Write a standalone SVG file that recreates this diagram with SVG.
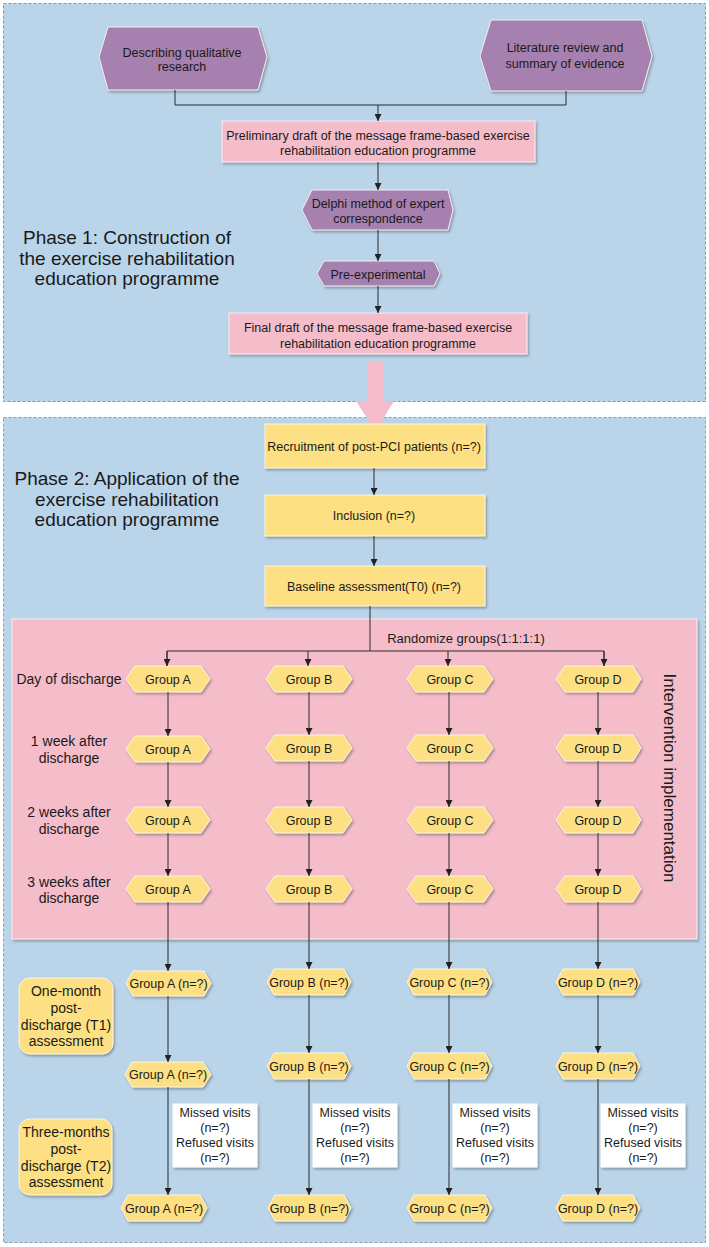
<svg xmlns="http://www.w3.org/2000/svg" width="709" height="1247" viewBox="0 0 709 1247">
<defs>
<filter id="sh" x="-10%" y="-10%" width="130%" height="140%">
<feDropShadow dx="1.5" dy="2" stdDeviation="0.8" flood-color="#555" flood-opacity="0.45"/>
</filter>
<marker id="ar" markerUnits="userSpaceOnUse" markerWidth="7" markerHeight="7" refX="7" refY="3.5" orient="auto">
<path d="M0,0 L7,3.5 L0,7 Z" fill="#222"/>
</marker>
</defs>
<style>
text{font-family:"Liberation Sans",Arial,sans-serif;fill:#1a1a1a;text-anchor:middle}
.s{font-size:12.5px}
.m{font-size:14px}
.l{font-size:19px}
.panel{fill:#bad4ea;stroke:#8e8bb8;stroke-width:1;stroke-dasharray:3,2}
.pur{fill:#a680ae;stroke:#f2eef5;stroke-width:1;filter:url(#sh)}
.pink{fill:#f5bdc9;stroke:#fbeef1;stroke-width:1;filter:url(#sh)}
.yel{fill:#fde083;stroke:#fff6d8;stroke-width:1;filter:url(#sh)}
.wht{fill:#ffffff;stroke:#ffffff;stroke-width:1;filter:url(#sh)}
.c{fill:none;stroke:#2a2a2a;stroke-width:1}
.ca{fill:none;stroke:#2a2a2a;stroke-width:1;marker-end:url(#ar)}
</style>

<g id="panel1">
<rect class="panel" x="3.5" y="3.5" width="702" height="398"/>
</g>
<g id="panel2">
<rect class="panel" x="3.5" y="417.5" width="702" height="825" style="stroke:#8a9bc2"/>
</g>

<g id="phase1-label">
<text class="l" x="127" y="244">Phase 1: Construction of</text>
<text class="l" x="127" y="264.5">the exercise rehabilitation</text>
<text class="l" x="127" y="285">education programme</text>
</g>
<g id="phase2-label">
<text class="l" x="127" y="485">Phase 2: Application of the</text>
<text class="l" x="127" y="505.5">exercise rehabilitation</text>
<text class="l" x="127" y="526">education programme</text>
</g>

<g id="n-qual">
<polygon class="pur" points="99,57 108,27 258,27 267,57 258,90 108,90"/>
<text class="s" x="182" y="56.5">Describing qualitative</text>
<text class="s" x="182" y="71">research</text>
</g>
<g id="n-lit">
<polygon class="pur" points="480,56 491,20 642,20 652,56 642,91 491,91"/>
<text class="s" x="565" y="51.5">Literature review and</text>
<text class="s" x="565" y="67.5">summary of evidence</text>
</g>
<g id="n-prelim">
<rect class="pink" x="222" y="121" width="313" height="41"/>
<text class="s" x="378" y="139.5">Preliminary draft of the message frame-based exercise</text>
<text class="s" x="378" y="155">rehabilitation education programme</text>
</g>
<g id="n-delphi">
<polygon class="pur" points="302,210 312,190 448,190 453,210 448,230 312,230"/>
<text class="s" x="378" y="207.5">Delphi method of expert</text>
<text class="s" x="378" y="222.5">correspondence</text>
</g>
<g id="n-pre">
<polygon class="pur" points="317,273.5 324,261 434,261 440,273.5 434,286 324,286"/>
<text class="s" x="378" y="278.5">Pre-experimental</text>
</g>
<g id="n-final">
<rect class="pink" x="229" y="313" width="298" height="41"/>
<text class="s" x="378" y="331.5">Final draft of the message frame-based exercise</text>
<text class="s" x="378" y="347.5">rehabilitation education programme</text>
</g>

<g id="big-arrow">
<polygon points="368,361 383,361 383,401 394,401 375.5,431 356,401 368,401" fill="#f4bccb"/>
</g>

<g id="n-recruit">
<rect class="yel" x="265" y="424" width="220" height="44"/>
<text class="s" x="374" y="451">Recruitment of post-PCI patients (n=?)</text>
</g>
<g id="n-incl">
<rect class="yel" x="265" y="495" width="220" height="41"/>
<text class="s" x="374" y="519.5">Inclusion (n=?)</text>
</g>
<g id="n-base">
<rect class="yel" x="265" y="566" width="220" height="40"/>
<text class="s" x="374" y="590.5">Baseline assessment(T0) (n=?)</text>
</g>

<g id="intervention-region">
<rect class="pink" x="12" y="619" width="685" height="320"/>
<text x="466" y="643" style="font-size:13px">Randomize groups(1:1:1:1)</text>
<text x="0" y="0" transform="translate(664,778) rotate(90)" style="font-size:17px">Intervention implementation</text>
</g>

<g id="row-labels">
<text class="m" x="69" y="684">Day of discharge</text>
<text class="m" x="69" y="746">1 week after</text>
<text class="m" x="69" y="763">discharge</text>
<text class="m" x="69" y="817">2 weeks after</text>
<text class="m" x="69" y="834">discharge</text>
<text class="m" x="69" y="887">3 weeks after</text>
<text class="m" x="69" y="903">discharge</text>
</g>

<g id="n-t1">
<rect class="yel" x="19" y="978" width="94" height="76" rx="11"/>
<text class="m" x="66" y="996">One-month</text>
<text class="m" x="66" y="1013">post-</text>
<text class="m" x="66" y="1030">discharge (T1)</text>
<text class="m" x="66" y="1046">assessment</text>
</g>
<g id="n-t2">
<rect class="yel" x="19" y="1119" width="93" height="76" rx="11"/>
<text class="m" x="66" y="1137">Three-months</text>
<text class="m" x="66" y="1154">post-</text>
<text class="m" x="66" y="1171">discharge (T2)</text>
<text class="m" x="66" y="1187">assessment</text>
</g>

<!-- Row 1 -->
<g id="a1"><polygon class="yel" points="126,679 135,666 201,666 210,679 201,692 135,692"/><text class="s" x="168" y="683.5">Group A</text></g>
<g id="b1"><polygon class="yel" points="266,679 275,666 343,666 352,679 343,692 275,692"/><text class="s" x="309" y="683.5">Group B</text></g>
<g id="c1"><polygon class="yel" points="407,679 416,666 484,666 493,679 484,692 416,692"/><text class="s" x="450" y="683.5">Group C</text></g>
<g id="d1"><polygon class="yel" points="556,679 565,666 633,666 641,679 633,692 565,692"/><text class="s" x="598" y="683.5">Group D</text></g>
<!-- Row 2 -->
<g id="a2"><polygon class="yel" points="126,749 135,736 201,736 210,749 201,762 135,762"/><text class="s" x="168" y="753.5">Group A</text></g>
<g id="b2"><polygon class="yel" points="266,748 275,735 343,735 352,748 343,761 275,761"/><text class="s" x="309" y="752.5">Group B</text></g>
<g id="c2"><polygon class="yel" points="407,748 416,735 484,735 493,748 484,761 416,761"/><text class="s" x="450" y="752.5">Group C</text></g>
<g id="d2"><polygon class="yel" points="556,748 565,735 633,735 641,748 633,761 565,761"/><text class="s" x="598" y="752.5">Group D</text></g>
<!-- Row 3 -->
<g id="a3"><polygon class="yel" points="126,820 135,807 201,807 210,820 201,833 135,833"/><text class="s" x="168" y="824.5">Group A</text></g>
<g id="b3"><polygon class="yel" points="266,820 275,807 343,807 352,820 343,833 275,833"/><text class="s" x="309" y="824.5">Group B</text></g>
<g id="c3"><polygon class="yel" points="407,820 416,807 484,807 493,820 484,833 416,833"/><text class="s" x="450" y="824.5">Group C</text></g>
<g id="d3"><polygon class="yel" points="556,820 565,807 633,807 641,820 633,833 565,833"/><text class="s" x="598" y="824.5">Group D</text></g>
<!-- Row 4 -->
<g id="a4"><polygon class="yel" points="126,889 135,876 201,876 210,889 201,902 135,902"/><text class="s" x="168" y="893.5">Group A</text></g>
<g id="b4"><polygon class="yel" points="266,889 275,876 343,876 352,889 343,902 275,902"/><text class="s" x="309" y="893.5">Group B</text></g>
<g id="c4"><polygon class="yel" points="407,889 416,876 484,876 493,889 484,902 416,902"/><text class="s" x="450" y="893.5">Group C</text></g>
<g id="d4"><polygon class="yel" points="556,889 565,876 633,876 641,889 633,902 565,902"/><text class="s" x="598" y="893.5">Group D</text></g>
<!-- Row 5 -->
<g id="a5"><polygon class="yel" points="126,983.5 133,971 204,971 211,983.5 204,996 133,996"/><text class="s" x="168.5" y="988">Group A (n=?)</text></g>
<g id="b5"><polygon class="yel" points="267,982 274,969 344,969 351,982 344,995 274,995"/><text class="s" x="309" y="986.5">Group B (n=?)</text></g>
<g id="c5"><polygon class="yel" points="407,982 414,969 485,969 492,982 485,995 414,995"/><text class="s" x="449.5" y="986.5">Group C (n=?)</text></g>
<g id="d5"><polygon class="yel" points="556,982 563,969 633,969 640,982 633,995 563,995"/><text class="s" x="598" y="986.5">Group D (n=?)</text></g>
<!-- Row 6 -->
<g id="a6"><polygon class="yel" points="125,1074.5 132,1062 203,1062 211,1074.5 203,1087 132,1087"/><text class="s" x="168" y="1079">Group A (n=?)</text></g>
<g id="b6"><polygon class="yel" points="267,1066 274,1053 344,1053 351,1066 344,1079 274,1079"/><text class="s" x="309" y="1070.5">Group B (n=?)</text></g>
<g id="c6"><polygon class="yel" points="407,1066 414,1053 485,1053 492,1066 485,1079 414,1079"/><text class="s" x="449.5" y="1070.5">Group C (n=?)</text></g>
<g id="d6"><polygon class="yel" points="556,1066 563,1053 633,1053 640,1066 633,1079 563,1079"/><text class="s" x="598" y="1070.5">Group D (n=?)</text></g>
<!-- Row 7 -->
<g id="a7"><polygon class="yel" points="121,1208 128,1195 200,1195 207,1208 200,1221 128,1221"/><text class="s" x="164" y="1212.5">Group A (n=?)</text></g>
<g id="b7"><polygon class="yel" points="268,1208 275,1195 344,1195 351,1208 344,1221 275,1221"/><text class="s" x="309.5" y="1212.5">Group B (n=?)</text></g>
<g id="c7"><polygon class="yel" points="407,1208 414,1195 485,1195 492,1208 485,1221 414,1221"/><text class="s" x="449.5" y="1212.5">Group C (n=?)</text></g>
<g id="d7"><polygon class="yel" points="556,1208 563,1195 633,1195 640,1208 633,1221 563,1221"/><text class="s" x="598" y="1212.5">Group D (n=?)</text></g>

<!-- Missed / refused boxes -->
<g id="ma"><rect class="wht" x="173" y="1104" width="84" height="63"/>
<text class="s" x="215" y="1116.5">Missed visits</text><text class="s" x="215" y="1131.5">(n=?)</text><text class="s" x="215" y="1146.5">Refused visits</text><text class="s" x="215" y="1161.5">(n=?)</text></g>
<g id="mb"><rect class="wht" x="313" y="1104" width="84" height="63"/>
<text class="s" x="355" y="1116.5">Missed visits</text><text class="s" x="355" y="1131.5">(n=?)</text><text class="s" x="355" y="1146.5">Refused visits</text><text class="s" x="355" y="1161.5">(n=?)</text></g>
<g id="mc"><rect class="wht" x="453" y="1104" width="84" height="63"/>
<text class="s" x="495" y="1116.5">Missed visits</text><text class="s" x="495" y="1131.5">(n=?)</text><text class="s" x="495" y="1146.5">Refused visits</text><text class="s" x="495" y="1161.5">(n=?)</text></g>
<g id="md"><rect class="wht" x="601" y="1104" width="84" height="63"/>
<text class="s" x="643" y="1116.5">Missed visits</text><text class="s" x="643" y="1131.5">(n=?)</text><text class="s" x="643" y="1146.5">Refused visits</text><text class="s" x="643" y="1161.5">(n=?)</text></g>

<g id="connectors">
<polyline class="c" points="175,90 175,105 566,105 566,91"/>
<line class="ca" x1="378" y1="105" x2="378" y2="121"/>
<line class="ca" x1="378" y1="162" x2="378" y2="190"/>
<line class="ca" x1="378" y1="230" x2="378" y2="261"/>
<line class="ca" x1="378" y1="286" x2="378" y2="313"/>
<line class="ca" x1="374" y1="468" x2="374" y2="495"/>
<line class="ca" x1="374" y1="536" x2="374" y2="566"/>
<polyline class="c" points="370,606 370,651"/>
<polyline class="c" points="167,666 167,651 604,651 604,666"/>
<line class="ca" x1="167" y1="651" x2="167" y2="666"/>
<line class="ca" x1="308" y1="651" x2="308" y2="666"/>
<line class="ca" x1="448" y1="651" x2="448" y2="666"/>
<line class="ca" x1="604" y1="651" x2="604" y2="666"/>

<line class="ca" x1="168" y1="692" x2="168" y2="736"/>
<line class="ca" x1="309" y1="692" x2="309" y2="735"/>
<line class="ca" x1="449" y1="692" x2="449" y2="735"/>
<line class="ca" x1="598" y1="692" x2="598" y2="735"/>

<line class="ca" x1="168" y1="762" x2="168" y2="807"/>
<line class="ca" x1="309" y1="761" x2="309" y2="807"/>
<line class="ca" x1="449" y1="761" x2="449" y2="807"/>
<line class="ca" x1="598" y1="761" x2="598" y2="807"/>

<line class="ca" x1="168" y1="833" x2="168" y2="876"/>
<line class="ca" x1="309" y1="833" x2="309" y2="876"/>
<line class="ca" x1="449" y1="833" x2="449" y2="876"/>
<line class="ca" x1="598" y1="833" x2="598" y2="876"/>

<line class="ca" x1="168" y1="902" x2="168" y2="971"/>
<line class="ca" x1="309" y1="902" x2="309" y2="969"/>
<line class="ca" x1="449" y1="902" x2="449" y2="969"/>
<line class="ca" x1="598" y1="902" x2="598" y2="969"/>

<line class="ca" x1="168" y1="996" x2="168" y2="1062"/>
<line class="ca" x1="309" y1="995" x2="309" y2="1053"/>
<line class="ca" x1="449" y1="995" x2="449" y2="1053"/>
<line class="ca" x1="598" y1="995" x2="598" y2="1053"/>

<line class="ca" x1="168" y1="1087" x2="168" y2="1195"/>
<line class="ca" x1="309" y1="1079" x2="309" y2="1195"/>
<line class="ca" x1="449" y1="1079" x2="449" y2="1195"/>
<line class="ca" x1="598" y1="1079" x2="598" y2="1195"/>
</g>
</svg>
